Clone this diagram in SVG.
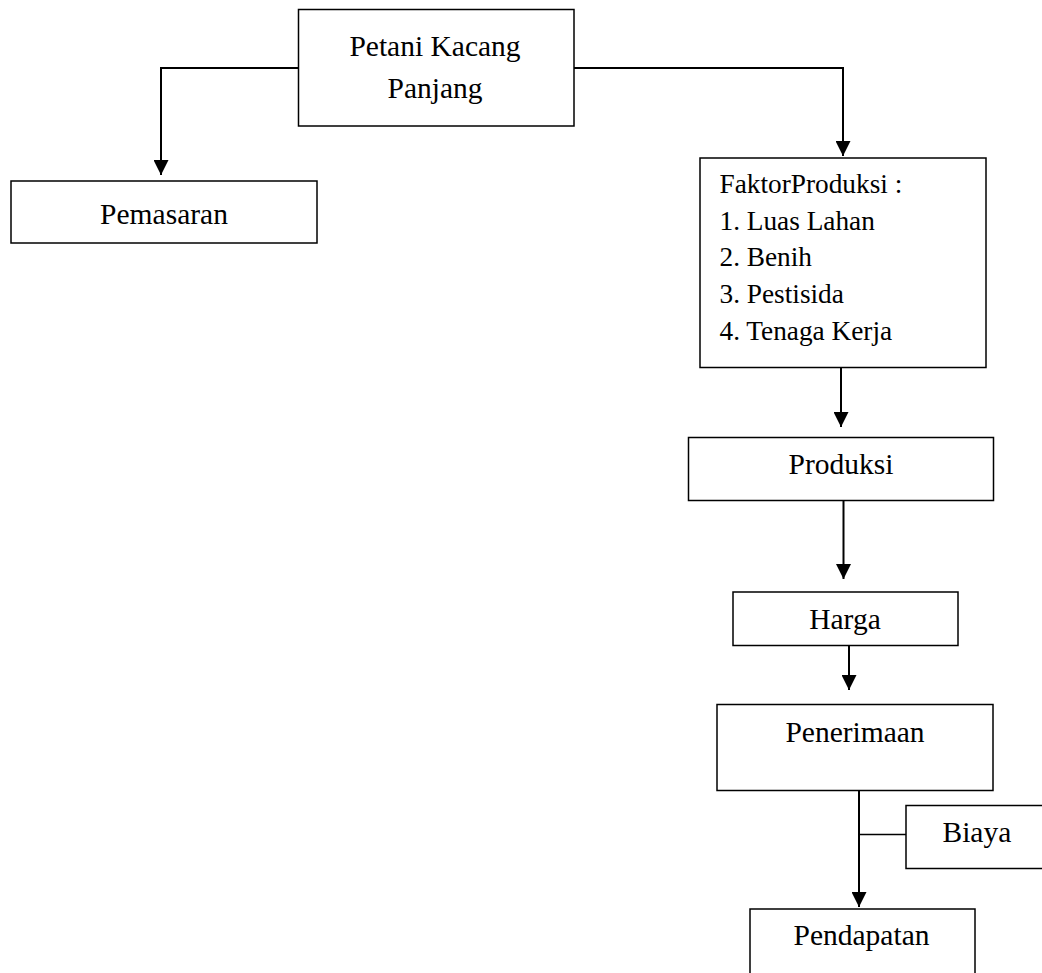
<svg xmlns="http://www.w3.org/2000/svg" width="1042" height="973" viewBox="0 0 1042 973">
<style>
.box{fill:#fff;stroke:#000;stroke-width:1.5}
.t{font-family:"Liberation Serif","Times New Roman",serif;font-size:29.5px;fill:#000}
.tc{text-anchor:middle}
.ts{font-size:27.3px}
.c{fill:none;stroke:#000;stroke-width:2}
.c1{fill:none;stroke:#000;stroke-width:1.4}
</style>
<defs>
<marker id="ah" markerUnits="userSpaceOnUse" markerWidth="15" markerHeight="15" viewBox="0 0 14 14" refX="14" refY="7" orient="auto">
<path d="M0,0 L14,7 L0,14 Z" fill="#000"/>
</marker>
</defs>
<rect width="1042" height="973" fill="#fff"/>
<g id="connectors">
<path class="c" d="M298,68 H161 V175" marker-end="url(#ah)"/>
<path class="c" d="M574,68 H843 V156" marker-end="url(#ah)"/>
<path class="c" d="M841,368 V427" marker-end="url(#ah)"/>
<path class="c" d="M843.5,500 V579" marker-end="url(#ah)"/>
<path class="c" d="M849,645 V690" marker-end="url(#ah)"/>
<path class="c" d="M859,791 V907" marker-end="url(#ah)"/>
<path class="c1" d="M859,834.5 H906"/>
</g>
<g id="petani">
<rect class="box" x="298.5" y="9.5" width="275.5" height="116.5"/>
<text class="t tc" x="435" y="55.5">Petani Kacang</text>
<text class="t tc" x="435" y="97.5">Panjang</text>
</g>
<g id="pemasaran">
<rect class="box" x="11" y="181" width="306" height="62"/>
<text class="t tc" x="164" y="224">Pemasaran</text>
</g>
<g id="faktor">
<rect class="box" x="700" y="158" width="286" height="209.5"/>
<text class="t ts" x="719.5" y="193">FaktorProduksi :</text>
<text class="t ts" x="719.5" y="229.8">1. Luas Lahan</text>
<text class="t ts" x="719.5" y="266.4">2. Benih</text>
<text class="t ts" x="719.5" y="303">3. Pestisida</text>
<text class="t ts" x="719.5" y="339.7">4. Tenaga Kerja</text>
</g>
<g id="produksi">
<rect class="box" x="688.5" y="437.5" width="305" height="63"/>
<text class="t tc" x="841" y="474">Produksi</text>
</g>
<g id="harga">
<rect class="box" x="733" y="592" width="225" height="53.5"/>
<text class="t tc" x="845" y="628.5">Harga</text>
</g>
<g id="penerimaan">
<rect class="box" x="717" y="704.5" width="276" height="86"/>
<text class="t tc" x="855" y="742">Penerimaan</text>
</g>
<g id="biaya">
<rect class="box" x="906" y="805.5" width="150" height="63"/>
<text class="t" x="942.5" y="842">Biaya</text>
</g>
<g id="pendapatan">
<rect class="box" x="750" y="909" width="225" height="80"/>
<text class="t tc" x="861.5" y="945">Pendapatan</text>
</g>
</svg>
